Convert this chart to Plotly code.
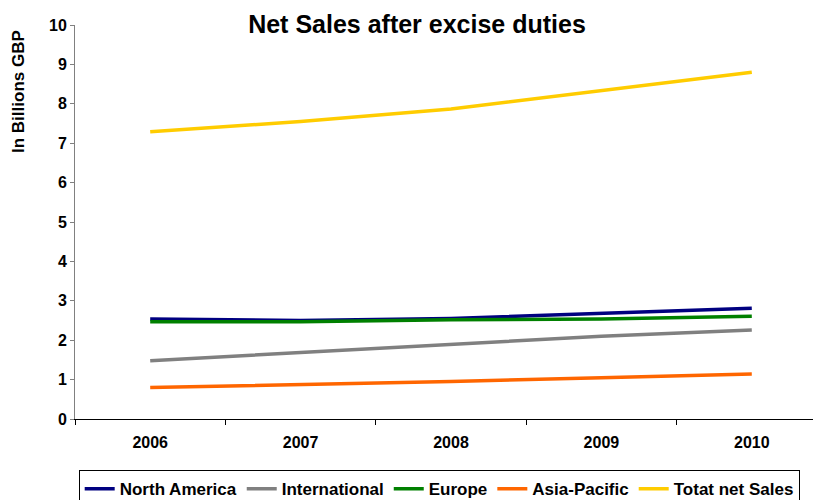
import plotly.graph_objects as go

years = ["2006", "2007", "2008", "2009", "2010"]
north_america = [2.54, 2.50, 2.55, 2.68, 2.81]
international = [1.48, 1.68, 1.89, 2.10, 2.26]
europe = [2.47, 2.47, 2.52, 2.54, 2.61]
asia_pacific = [0.80, 0.87, 0.95, 1.05, 1.14]
total = [7.29, 7.55, 7.87, 8.33, 8.80]

series = [
    ("North America", north_america, "#000080"),
    ("International", international, "#808080"),
    ("Europe", europe, "#008000"),
    ("Asia-Pacific", asia_pacific, "#FF6600"),
    ("Totat net Sales", total, "#FFCC00"),
]

fig = go.Figure()
for name, vals, col in series:
    fig.add_trace(go.Scatter(x=years, y=vals, name="<b>" + name + "</b>", mode="lines",
                             line=dict(color=col, width=3.5)))

font = "Liberation Sans, Arial, sans-serif"
fig.update_layout(
    width=813, height=500,
    margin=dict(l=75, r=0, t=25, b=81, autoexpand=False),
    paper_bgcolor="white", plot_bgcolor="white",
    font=dict(family=font, color="black", size=15),
    title=dict(text="<b>Net Sales after excise duties</b>", x=417 / 813, xanchor="center",
               xref="container", y=1 - 24 / 500, yanchor="middle",
               font=dict(size=25, family=font, color="black")),
    showlegend=True,
    legend=dict(orientation="h", x=0.005, xanchor="left", xref="paper",
                y=-0.130, yanchor="top", bordercolor="black", borderwidth=1,
                font=dict(size=17, family=font, color="black"),
                tracegroupgap=0, itemwidth=30),
    annotations=[dict(text="<b>In Billions GBP</b>", textangle=-90, xref="paper", yref="paper",
                      x=-57 / 738, y=(419 - 92) / 394, xanchor="center", yanchor="middle",
                      showarrow=False, font=dict(size=17, family=font, color="black"))],
)
fig.update_xaxes(
    type="category", range=[-0.5, 4.407], automargin=False,
    showline=True, linecolor="black", linewidth=1,
    ticks="outside", ticklen=5, tickcolor="black", tickson="boundaries",
    showgrid=False, tickfont=dict(size=16, family=font, color="black"),
    tickprefix="<b>", ticksuffix="</b>", ticklabelstandoff=9,
)
fig.update_yaxes(
    range=[0, 10], dtick=1, showline=True, linecolor="#808080", linewidth=1,
    ticks="outside", ticklen=4, tickcolor="#808080", showgrid=False, zeroline=False,
    automargin=False,
    tickfont=dict(size=16, family=font, color="black"), tickprefix="<b>", ticksuffix="</b>",
)

fig.write_html("out.html", config={"displayModeBar": False},
               post_script="document.body.style.margin='0';")
